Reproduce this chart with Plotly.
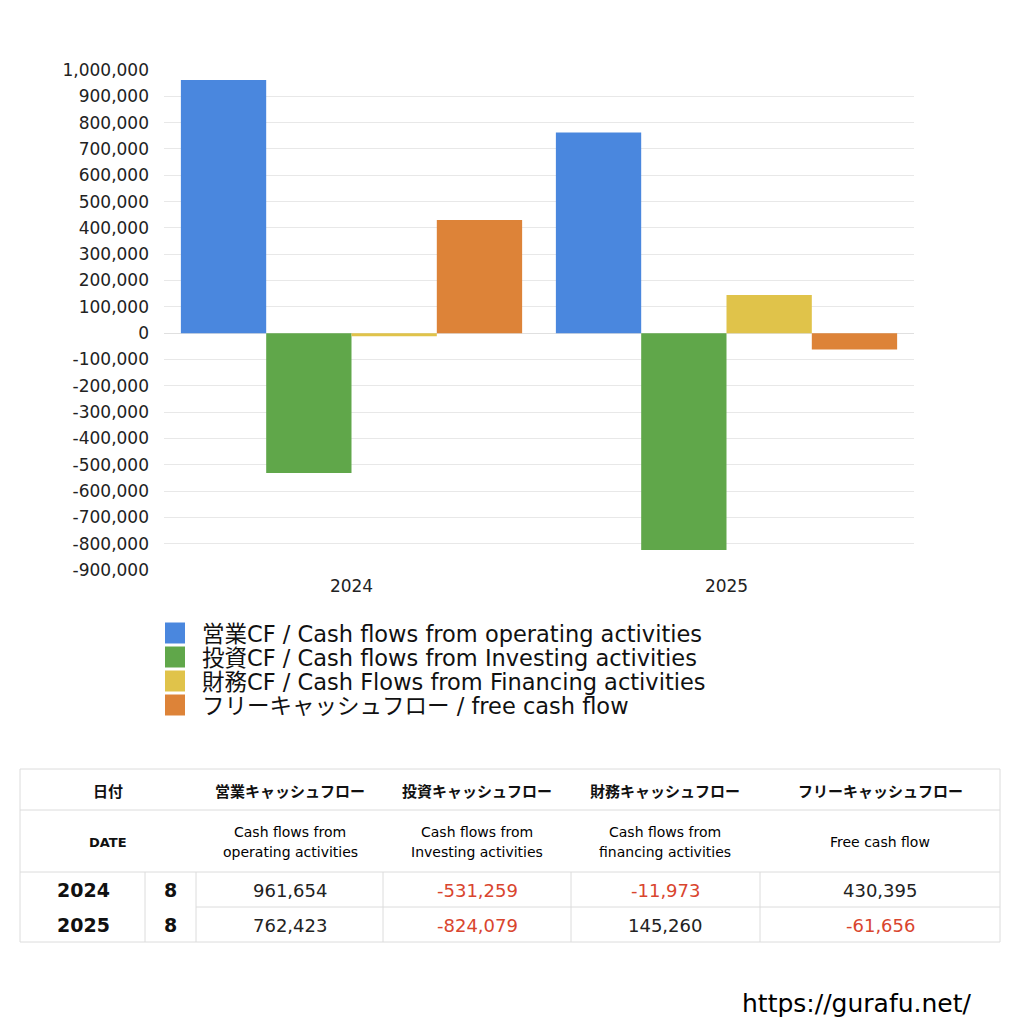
import plotly.graph_objects as go

FONT = "DejaVu Sans, Noto Sans CJK JP"
FONT_JA = "Noto Sans CJK JP"

years = ["2024", "2025"]
months = ["8", "8"]
operating = [961654, 762423]
investing = [-531259, -824079]
financing = [-11973, 145260]
free_cf = [430395, -61656]

series_names = [
    "営業CF / Cash flows from operating activities",
    "投資CF / Cash flows from Investing activities",
    "財務CF / Cash Flows from Financing activities",
    "フリーキャッシュフロー / free cash flow",
]
series_colors = ["#4a87de", "#60a74a", "#e0c34a", "#dd8338"]

head_ja = ["営業キャッシュフロー", "投資キャッシュフロー", "財務キャッシュフロー", "フリーキャッシュフロー"]
head_en = [
    ["Cash flows from", "operating activities"],
    ["Cash flows from", "Investing activities"],
    ["Cash flows from", "financing activities"],
    ["Free cash flow"],
]

tick_vals = list(range(-900000, 1000001, 100000))
tick_text = [f"{v:,}" for v in tick_vals]

# page is 1024 x 1024 but the browser body has an 8px margin
PAGE, OFF = 1024, 8
# plot area in page pixels
L, R, T, B = 164, 914, 70, 570


def px(x):
    return (x - L) / (R - L)


def py(y):
    return (B - y) / (B - T)


fig = go.Figure()
for name, vals, color in zip(series_names, [operating, investing, financing, free_cf], series_colors):
    fig.add_trace(go.Bar(x=years, y=vals, name=name, showlegend=False,
                         marker=dict(color=color, line=dict(width=0))))

shapes = []
ann = []
GRID = "#dcdcdc"


def hline(y, x0=20, x1=1000):
    shapes.append(dict(type="line", xref="paper", yref="paper", x0=px(x0), x1=px(x1),
                       y0=py(y), y1=py(y), line=dict(color=GRID, width=1)))


def vline(x, y0, y1):
    shapes.append(dict(type="line", xref="paper", yref="paper", x0=px(x), x1=px(x),
                       y0=py(y0), y1=py(y1), line=dict(color=GRID, width=1)))


def text(x, y, s, size=13, color="#111", bold=False, anchor="center", family=FONT):
    ann.append(dict(xref="paper", yref="paper", x=px(x), y=py(y), text=f"<b>{s}</b>" if bold else s,
                    showarrow=False, xanchor=anchor, yanchor="middle", borderpad=0,
                    font=dict(family=family, size=size, color=color)))


# legend drawn by hand: 20px squares, 24px row pitch
for i, (name, color) in enumerate(zip(series_names, series_colors)):
    cy = 633 + 24 * i
    shapes.append(dict(type="rect", xref="paper", yref="paper", x0=px(165), x1=px(185),
                       y0=py(cy - 10.5), y1=py(cy + 10.5), fillcolor=color, line=dict(width=0)))
    text(201, cy + 1, name, size=22.5, color="#111", anchor="left")

# table grid
for y in (769, 810, 872, 942):
    hline(y)
hline(907, 196, 1000)
vline(20, 769, 942)
vline(1000, 769, 942)
for x in (145, 196, 383, 571, 760):
    vline(x, 872, 942)

col_centers = [290, 477, 665, 880]
text(108, 790, "日付", size=15, bold=True, family=FONT_JA)
text(108, 842, "DATE", size=13, bold=True)
for cx, hj, he in zip(col_centers, head_ja, head_en):
    text(cx, 790, hj, size=15, bold=True, family=FONT_JA)
    if len(he) == 2:
        text(cx, 832, he[0], size=14, color="#000")
        text(cx, 852, he[1], size=14, color="#000")
    else:
        text(cx, 842, he[0], size=14, color="#000")

row_y = [890, 925]
for ry, yr, mo, *vals in zip(row_y, years, months, operating, investing, financing, free_cf):
    text(83, ry, yr, size=19, bold=True)
    text(170, ry, mo, size=19, bold=True)
    for cx, v in zip(col_centers, vals):
        text(cx, ry, f"{v:,}", size=18, color="#d9452e" if v < 0 else "#222")

text(973, 1003, "https://gurafu.net/", size=25, color="#000", anchor="right")

fig.update_layout(
    width=PAGE - OFF, height=PAGE - OFF,
    margin=dict(l=L - OFF, r=PAGE - R, t=T - OFF, b=PAGE - B),
    paper_bgcolor="white", plot_bgcolor="white",
    barmode="group", bargap=0.09, bargroupgap=0,
    font=dict(family=FONT, color="#333"),
    showlegend=False,
    xaxis=dict(tickfont=dict(size=17, color="#222"), showgrid=False, zeroline=False,
               showline=False, ticklabelstandoff=4),
    yaxis=dict(range=[-900000, 1000000], tickvals=tick_vals, ticktext=tick_text,
               tickfont=dict(size=17, color="#222"), gridcolor="#e8e8e8", zeroline=True,
               zerolinecolor="#e0e0e0", zerolinewidth=1, ticklabelstandoff=14),
    shapes=shapes,
    annotations=ann,
)

fig.write_html("out.html")
